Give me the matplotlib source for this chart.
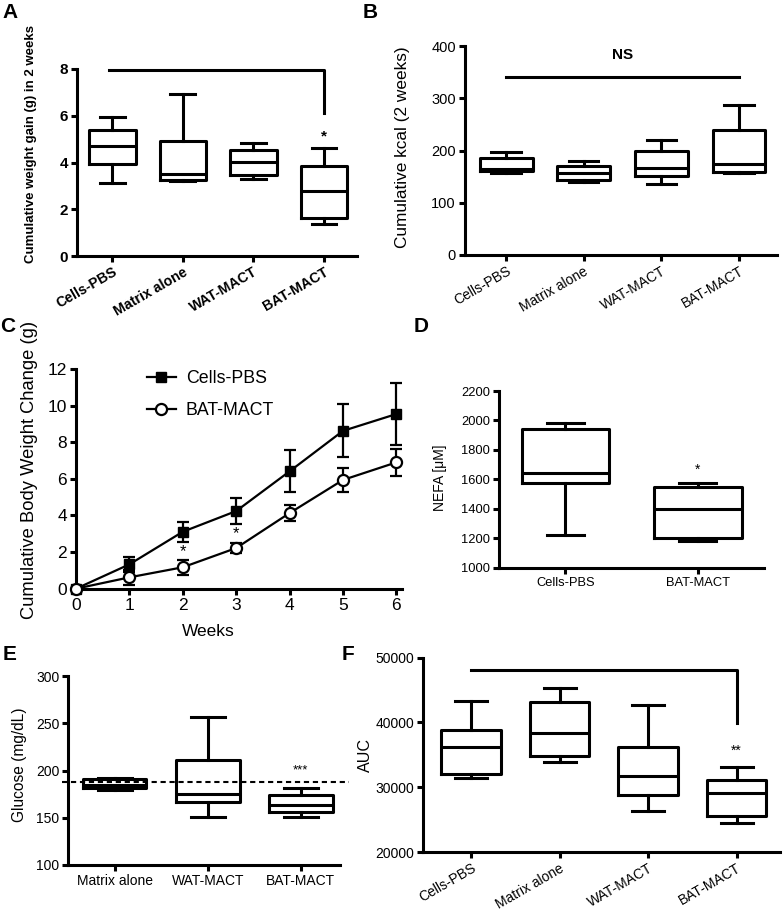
import matplotlib

matplotlib.use("Agg")
import matplotlib.pyplot as plt
from matplotlib.lines import Line2D

plt.rcParams["font.family"] = ["Liberation Sans", "DejaVu Sans"]

W, H = 784, 916

# --------------------------------------------------------------------------- #
# Data
# --------------------------------------------------------------------------- #
groups4 = ["Cells-PBS", "Matrix alone", "WAT-MACT", "BAT-MACT"]

# A: cumulative weight gain (g) in 2 weeks
a_low = [3.12, 3.20, 3.30, 1.39]
a_q1 = [3.94, 3.26, 3.45, 1.62]
a_med = [4.70, 3.49, 4.01, 2.76]
a_q3 = [5.40, 4.91, 4.53, 3.85]
a_high = [5.93, 6.95, 4.84, 4.63]

# B: cumulative kcal (2 weeks)
b_low = [157, 139, 136, 157]
b_q1 = [161, 143, 151, 159]
b_med = [165, 156, 167, 175]
b_q3 = [186, 171, 200, 239]
b_high = [197, 180, 221, 288]

# C: cumulative body weight change (g), mean +/- SEM
weeks = [0, 1, 2, 3, 4, 5, 6]
pbs_mean = [0.0, 1.33, 3.11, 4.24, 6.41, 8.62, 9.54]
pbs_sem = [0.0, 0.42, 0.55, 0.72, 1.15, 1.45, 1.68]
bat_mean = [0.0, 0.62, 1.17, 2.22, 4.13, 5.94, 6.90]
bat_sem = [0.0, 0.40, 0.40, 0.25, 0.45, 0.66, 0.72]

# D: NEFA
groups_d = ["Cells-PBS", "BAT-MACT"]
d_low = [1220, 1183]
d_q1 = [1575, 1202]
d_med = [1643, 1396]
d_q3 = [1944, 1548]
d_high = [1985, 1573]

# E: glucose
groups_e = ["Matrix alone", "WAT-MACT", "BAT-MACT"]
e_low = [179.7, 150.5, 151]
e_q1 = [181, 167, 156.5]
e_med = [184.7, 175, 163]
e_q3 = [190.7, 211.5, 173.7]
e_high = [191.7, 257, 181.5]
e_ref = 187.5

# F: AUC
f_low = [31500, 33820, 26390, 24430]
f_q1 = [32060, 34850, 28760, 25520]
f_med = [36180, 38450, 31700, 29070]
f_q3 = [38870, 43200, 36240, 31190]
f_high = [43300, 45360, 42630, 33200]

LW = 2.2


def rect(left, top, right, bottom):
    return [left / W, 1 - bottom / H, (right - left) / W, (bottom - top) / H]


def fig_txt(fig, x, y, s, **kw):
    fig.text(x / W, 1 - y / H, s, ha="center", va="center", **kw)


def style(ax, size, bold=False):
    for side in ("top", "right"):
        ax.spines[side].set_visible(False)
    for side in ("left", "bottom"):
        ax.spines[side].set_linewidth(LW)
    ax.tick_params(width=LW, length=4.5, labelsize=size, pad=2)
    if bold:
        for t in ax.get_xticklabels() + ax.get_yticklabels():
            t.set_fontweight("bold")


def boxes(ax, labels, low, q1, med, q3, high, width, cap):
    stats = [
        dict(whislo=a, q1=b, med=c, q3=d, whishi=e, label=l)
        for l, a, b, c, d, e in zip(labels, low, q1, med, q3, high)
    ]
    line = dict(color="black", linewidth=LW)
    ax.bxp(stats, positions=range(1, len(stats) + 1), widths=width,
           capwidths=cap, showfliers=False, boxprops=line,
           whiskerprops=line, capprops=line, medianprops=line)


fig = plt.figure(figsize=(W / 100, H / 100), dpi=100)

# --- A --------------------------------------------------------------------- #
ax = fig.add_axes(rect(77, 69, 357, 256))
boxes(ax, groups4, a_low, a_q1, a_med, a_q3, a_high, 0.66, 0.35)
ax.set_xlim(0.5, 4.47)
ax.set_ylim(0, 8)
ax.set_yticks([0, 2, 4, 6, 8])
style(ax, 11, bold=True)
ax.tick_params(axis="x", labelsize=10.2)
plt.setp(ax.get_xticklabels(), rotation=30, ha="right", rotation_mode="anchor")
ax.plot([0.96, 4, 4], [7.95, 7.95, 6.1], color="black", lw=LW, clip_on=False)
ax.text(4, 5.1, "*", ha="center", va="center", fontsize=11, fontweight="bold")
fig_txt(fig, 31, 144, "Cumulative weight gain (g) in 2 weeks", rotation=90,
        fontsize=9.5, fontweight="bold")

# --- B --------------------------------------------------------------------- #
ax = fig.add_axes(rect(465, 46, 777, 255))
boxes(ax, groups4, b_low, b_q1, b_med, b_q3, b_high, 0.68, 0.38)
ax.set_xlim(0.47, 4.49)
ax.set_ylim(0, 400)
ax.set_yticks([0, 100, 200, 300, 400])
style(ax, 10.5)
ax.tick_params(axis="x", labelsize=10)
plt.setp(ax.get_xticklabels(), rotation=30, ha="right", rotation_mode="anchor")
ax.plot([1, 4], [341, 341], color="black", lw=LW)
ax.text(2.5, 382, "NS", ha="center", va="center", fontsize=11, fontweight="bold")
fig_txt(fig, 402, 147, "Cumulative kcal (2 weeks)", rotation=90, fontsize=12.4)

# --- C --------------------------------------------------------------------- #
ax = fig.add_axes(rect(76, 369, 401.7, 588.7))
ax.errorbar(weeks, pbs_mean, yerr=pbs_sem, color="black", lw=1.6, marker="s",
            ms=6.5, capsize=4.3, capthick=1.6, elinewidth=1.6,
            clip_on=False, zorder=3)
ax.errorbar(weeks, bat_mean, yerr=bat_sem, color="black", lw=1.6, marker="o",
            ms=8, mfc="white", mew=1.6, capsize=4.3, capthick=1.6,
            elinewidth=1.6, clip_on=False, zorder=4)
ax.set_xlim(0, 6.1)
ax.set_ylim(0, 12)
ax.set_xticks(weeks)
ax.set_yticks(range(0, 13, 2))
style(ax, 12.5)
ax.text(2, 2.02, "*", ha="center", va="center", fontsize=12)
ax.text(3, 3.02, "*", ha="center", va="center", fontsize=12)
handles = [
    Line2D([], [], color="black", lw=1.6, marker="s", ms=6.5),
    Line2D([], [], color="black", lw=1.6, marker="o", ms=8, mfc="white", mew=1.6),
]
ax.legend(handles, ["Cells-PBS", "BAT-MACT"], loc="center left",
          bbox_to_anchor=(146.7 / W, 1 - 394.5 / H),
          bbox_transform=fig.transFigure, frameon=False, fontsize=12.8,
          handlelength=1.65, handletextpad=0.55, labelspacing=0.85,
          borderpad=0, borderaxespad=0)
fig_txt(fig, 30, 470, "Cumulative Body Weight Change (g)", rotation=90,
        fontsize=13.2)
fig_txt(fig, 208, 632, "Weeks", fontsize=12.5)

# --- D --------------------------------------------------------------------- #
ax = fig.add_axes(rect(499.3, 391, 764, 567.7))
boxes(ax, groups_d, d_low, d_q1, d_med, d_q3, d_high, 0.66, 0.28)
ax.set_xlim(0.5, 2.5)
ax.set_ylim(1000, 2200)
ax.set_yticks(range(1000, 2201, 200))
style(ax, 9.3)
ax.text(2, 1668, "*", ha="center", va="center", fontsize=10)
fig_txt(fig, 440, 478, "NEFA [\u03bcM]", rotation=90, fontsize=10)

# --- E --------------------------------------------------------------------- #
ax = fig.add_axes(rect(68.3, 676, 340, 865))
boxes(ax, groups_e, e_low, e_q1, e_med, e_q3, e_high, 0.68, 0.36)
ax.set_xlim(0.5, 3.42)
ax.set_ylim(100, 300)
ax.set_yticks([100, 150, 200, 250, 300])
style(ax, 10)
ax.plot([0.43, 3.52], [e_ref, e_ref], color="black", lw=1.5, ls=(0, (2.5, 1.8)),
        clip_on=False, zorder=5)
ax.text(3, 200, "***", ha="center", va="center", fontsize=9.5)
fig_txt(fig, 20, 765, "Glucose (mg/dL)", rotation=90, fontsize=11.2)

# --- F --------------------------------------------------------------------- #
ax = fig.add_axes(rect(423.3, 657.7, 780, 852))
boxes(ax, groups4, f_low, f_q1, f_med, f_q3, f_high, 0.67, 0.36)
ax.set_xlim(0.46, 4.49)
ax.set_ylim(20000, 50000)
ax.set_yticks([20000, 30000, 40000, 50000])
style(ax, 10)
plt.setp(ax.get_xticklabels(), rotation=30, ha="right", rotation_mode="anchor")
ax.plot([1, 4, 4], [48040, 48040, 39950], color="black", lw=LW)
ax.text(4, 35600, "**", ha="center", va="center", fontsize=10)
fig_txt(fig, 365, 755, "AUC", rotation=90, fontsize=11.6)

# --- panel letters --------------------------------------------------------- #
for letter, x, y in [("A", 10, 13), ("B", 370, 13), ("C", 8, 327),
                     ("D", 421, 327), ("E", 10, 655), ("F", 348, 655)]:
    fig_txt(fig, x, y, letter, fontsize=15, fontweight="bold")

fig.savefig("out.png", dpi=100)
